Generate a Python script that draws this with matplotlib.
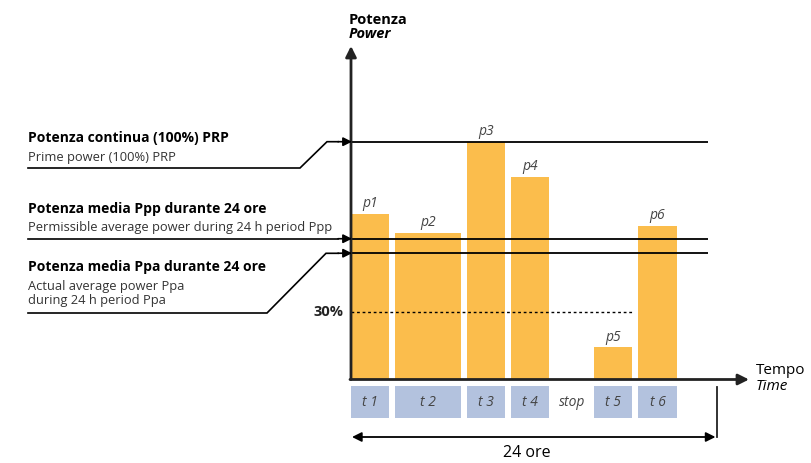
import matplotlib
matplotlib.use('Agg')
import matplotlib.pyplot as plt
from matplotlib.patches import Rectangle

plt.rcParams['font.family'] = ['Open Sans', 'DejaVu Sans']

# ---------------- data ----------------
periods = ['t 1', 't 2', 't 3', 't 4', 'stop', 't 5', 't 6']
durations_h = [2.9, 4.7, 2.9, 2.9, 2.55, 2.9, 2.9]
power_pct = [69.6, 61.7, 100, 85.3, None, 13.5, 64.6]
bar_labels = ['p1', 'p2', 'p3', 'p4', None, 'p5', 'p6']
prp_pct = 100
ppp_pct = 59.2
ppa_pct = 53.1
min_pct = 28.4
min_label = '30%'
total_h = 24

# ---------------- layout helpers (pixel -> data) ----------------
W, H = 811, 463
X0, Y0 = 351, 379.5          # origin in pixels
SX, SY = 15.25, 2.378        # px per hour, px per percent


def X(px):
    return (px - X0) / SX


def Y(py):
    return (Y0 - py) / SY


fig = plt.figure(figsize=(W / 100, H / 100), dpi=100)
ax = fig.add_axes([0, 0, 1, 1])
ax.set_xlim(X(0), X(W))
ax.set_ylim(Y(H), Y(0))
ax.axis('off')

BAR = '#FBBD4C'
BOX = '#B3C2DE'
GAP = 0.4
TXT = '#333333'
SMALL = 10

# bars and period boxes
start = 0.0
t5_end = None
for name, d, p, lab in zip(periods, durations_h, power_pct, bar_labels):
    w = d - GAP
    cx = start + w / 2
    if p is not None:
        ax.bar(start, p, width=w, align='edge', color=BAR, zorder=2)
        ax.text(cx, p + 10 / SY, lab, ha='center', va='center',
                style='italic', fontsize=SMALL, color='#444444', zorder=5)
        ax.add_patch(Rectangle((start, Y(418)), w, Y(386) - Y(418),
                               facecolor=BOX, edgecolor='none', zorder=2))
    if name == 't 5':
        t5_end = start + w
    ax.text(cx, Y(402), name, ha='center', va='center', style='italic',
            fontsize=SMALL, color='#444444', zorder=5)
    start += d

# horizontal reference lines
line_end = X(708)
for v in (prp_pct, ppp_pct, ppa_pct):
    ax.plot([0, line_end], [v, v], color='black', lw=1.3, zorder=3,
            solid_capstyle='butt')
ax.plot([0, t5_end], [min_pct, min_pct], color='black', lw=1.0,
        ls=(0, (2.0, 2.0)), zorder=3)
ax.text(X(343), min_pct, min_label, ha='right', va='center',
        fontweight='bold', fontsize=10.5, color='#222222')

# axes with arrows
ax.annotate('', xy=(0, Y(46)), xytext=(0, 0),
            arrowprops=dict(arrowstyle='-|>', color='#222222', lw=2,
                            mutation_scale=16, shrinkA=0, shrinkB=0),
            zorder=6)
ax.annotate('', xy=(X(749), 0), xytext=(X(350), 0),
            arrowprops=dict(arrowstyle='-|>', color='#222222', lw=2,
                            mutation_scale=16, shrinkA=0, shrinkB=0),
            zorder=6)
ax.text(X(349), Y(19.5), 'Potenza', ha='left', va='center',
        fontsize=10.5, fontweight='bold', color='black')
ax.text(X(349), Y(34), 'Power', ha='left', va='center',
        fontsize=10.5, fontweight='bold', style='italic', color='black')
ax.text(X(756), Y(371), 'Tempo', ha='left', va='center', fontsize=11,
        color='black')
ax.text(X(756), Y(386), 'Time', ha='left', va='center', fontsize=11,
        style='italic', color='black')

# 24 h span
ax.annotate('', xy=(total_h - 0.1, Y(437)), xytext=(X(352), Y(437)),
            arrowprops=dict(arrowstyle='<|-|>', color='black', lw=1.3,
                            mutation_scale=14, shrinkA=0, shrinkB=0))
ax.plot([total_h, total_h], [Y(387), Y(437)], color='#222222', lw=1.3)
ax.text(total_h / 2 - 0.45, Y(453), f'{total_h} ore', ha='center',
        va='center', fontsize=11.5, color='black')


# left annotations
def leader(points, y_pct):
    xs = [X(p[0]) for p in points]
    ys = [Y(p[1]) for p in points]
    ax.plot(xs, ys, color='black', lw=1.2, solid_joinstyle='miter')
    ax.annotate('', xy=(X(352), y_pct), xytext=(xs[-1], y_pct),
                arrowprops=dict(arrowstyle='-|>', color='black', lw=1.2,
                                mutation_scale=13, shrinkA=0, shrinkB=0),
                zorder=7)


leader([(28, 168), (300, 168), (327, 141.7), (338, 141.7)], prp_pct)
leader([(28, 238.7), (338, 238.7)], ppp_pct)
leader([(28, 313), (267, 313), (326, 253.3), (338, 253.3)], ppa_pct)

BF, RF = 10, 9.3
ax.text(X(28), Y(138), 'Potenza continua (100%) PRP', ha='left',
        va='center', fontsize=BF, fontweight='bold', color='black')
ax.text(X(28), Y(157.5), 'Prime power (100%) PRP', ha='left',
        va='center', fontsize=RF, color=TXT)
ax.text(X(28), Y(208.5), 'Potenza media Ppp durante 24 ore', ha='left',
        va='center', fontsize=BF, fontweight='bold', color='black')
ax.text(X(28), Y(228), 'Permissible average power during 24 h period Ppp',
        ha='left', va='center', fontsize=RF, color=TXT)
ax.text(X(28), Y(266.5), 'Potenza media Ppa durante 24 ore', ha='left',
        va='center', fontsize=BF, fontweight='bold', color='black')
ax.text(X(28), Y(286.5), 'Actual average power Ppa', ha='left',
        va='center', fontsize=RF, color=TXT)
ax.text(X(28), Y(300.5), 'during 24 h period Ppa', ha='left',
        va='center', fontsize=RF, color=TXT)

fig.savefig('out.png', dpi=100)
